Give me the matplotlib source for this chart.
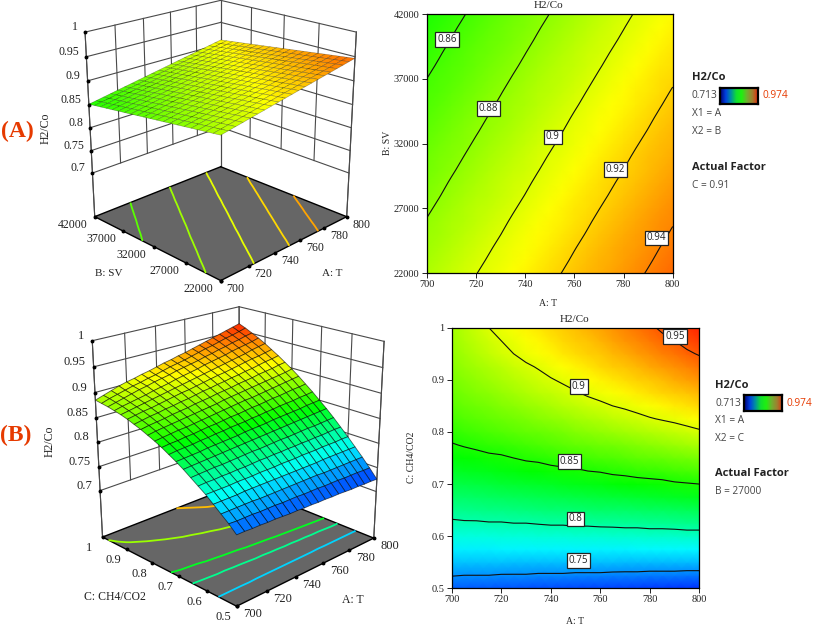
import numpy as np
import matplotlib
matplotlib.use("Agg")
import matplotlib.pyplot as plt
from matplotlib.colors import LinearSegmentedColormap, Normalize
from mpl_toolkits.mplot3d import proj3d

# ---------- data ----------
scale_min, scale_max = 0.713, 0.974
T_values = np.arange(700, 805, 5)
SV_values = np.arange(22000, 43000, 1000)
C_values = np.arange(0, 21) * 0.025 + 0.5
T_ticks = [700, 720, 740, 760, 780, 800]
SV_ticks = [22000, 27000, 32000, 37000, 42000]
C_ticks = [0.5, 0.6, 0.7, 0.8, 0.9, 1]
Z_ticks = [0.7, 0.75, 0.8, 0.85, 0.9, 0.95, 1]
Z_tick_labels = ["0.7", "0.75", "0.8", "0.85", "0.9", "0.95", "1"]
C_tick_labels = ["0.5", "0.6", "0.7", "0.8", "0.9", "1"]
levels_A = [0.86, 0.88, 0.90, 0.92, 0.94]
levels_B = [0.75, 0.80, 0.85, 0.90, 0.95]
floor_levels_A = [0.866, 0.884, 0.902, 0.918, 0.932]
floor_levels_B = [0.768, 0.807, 0.835, 0.883, 0.926]
label_text_A = ["0.86", "0.88", "0.9", "0.92", "0.94"]
label_T_A = [708.3, 725, 751.2, 776.6, 793.5]
label_SV_A = [40020, 34725, 32515, 29995, 24725]
label_text_B = ["0.75", "0.8", "0.85", "0.9", "0.95"]
label_T_B = [751.3, 750, 747.5, 751.3, 790.2]
label_C_B = [0.5537, 0.633, 0.744, 0.887, 0.983]

# H2/Co x 10000; rows = SV 22000..42000, columns = T 700..800
h2co_A = np.array([
[8879,8908,8938,8967,8997,9026,9055,9085,9114,9144,9173,9202,9232,9261,9291,9320,9349,9379,9408,9438,9467],
[8860,8889,8919,8948,8978,9007,9036,9066,9095,9125,9154,9183,9213,9242,9272,9301,9330,9360,9389,9419,9448],
[8842,8871,8901,8930,8960,8989,9018,9048,9077,9107,9136,9165,9195,9224,9254,9283,9312,9342,9371,9401,9430],
[8823,8852,8882,8911,8941,8970,8999,9029,9058,9088,9117,9146,9176,9205,9235,9264,9293,9323,9352,9382,9411],
[8805,8834,8864,8893,8923,8952,8981,9011,9040,9070,9099,9128,9158,9187,9217,9246,9275,9305,9334,9364,9393],
[8786,8815,8845,8874,8904,8933,8962,8992,9021,9051,9080,9109,9139,9168,9198,9227,9256,9286,9315,9345,9374],
[8767,8796,8826,8855,8885,8914,8943,8973,9002,9032,9061,9090,9120,9149,9179,9208,9237,9267,9296,9326,9355],
[8749,8778,8808,8837,8867,8896,8925,8955,8984,9014,9043,9072,9102,9131,9161,9190,9219,9249,9278,9308,9337],
[8730,8759,8789,8818,8848,8877,8906,8936,8965,8995,9024,9053,9083,9112,9142,9171,9200,9230,9259,9289,9318],
[8712,8741,8771,8800,8830,8859,8888,8918,8947,8977,9006,9035,9065,9094,9124,9153,9182,9212,9241,9271,9300],
[8693,8722,8752,8781,8811,8840,8869,8899,8928,8958,8987,9016,9046,9075,9105,9134,9163,9193,9222,9252,9281],
[8674,8703,8733,8762,8792,8821,8850,8880,8909,8939,8968,8997,9027,9056,9086,9115,9144,9174,9203,9233,9262],
[8656,8685,8715,8744,8774,8803,8832,8862,8891,8921,8950,8979,9009,9038,9068,9097,9126,9156,9185,9215,9244],
[8637,8666,8696,8725,8755,8784,8813,8843,8872,8902,8931,8960,8990,9019,9049,9078,9107,9137,9166,9196,9225],
[8619,8648,8678,8707,8737,8766,8795,8825,8854,8884,8913,8942,8972,9001,9031,9060,9089,9119,9148,9178,9207],
[8600,8629,8659,8688,8718,8747,8776,8806,8835,8865,8894,8923,8953,8982,9012,9041,9070,9100,9129,9159,9188],
[8581,8610,8640,8669,8699,8728,8757,8787,8816,8846,8875,8904,8934,8963,8993,9022,9051,9081,9110,9140,9169],
[8563,8592,8622,8651,8681,8710,8739,8769,8798,8828,8857,8886,8916,8945,8975,9004,9033,9063,9092,9122,9151],
[8544,8573,8603,8632,8662,8691,8720,8750,8779,8809,8838,8867,8897,8926,8956,8985,9014,9044,9073,9103,9132],
[8526,8555,8585,8614,8644,8673,8702,8732,8761,8791,8820,8849,8879,8908,8938,8967,8996,9026,9055,9085,9114],
[8507,8536,8566,8595,8625,8654,8683,8713,8742,8772,8801,8830,8860,8889,8919,8948,8977,9007,9036,9066,9095],
]) / 1e4

# H2/Co x 1000; rows = C 0.5..1, columns = T 700..800
h2co_B = np.array([
[737,737,736,736,735,735,734,733,733,732,732,731,731,730,730,729,728,728,727,727,726],
[751,750,750,750,749,749,749,748,748,748,747,747,747,746,746,746,745,745,745,744,744],
[763,763,763,763,763,762,762,762,762,762,762,762,762,762,761,761,761,761,761,761,761],
[775,775,775,775,776,776,776,776,776,776,776,776,776,776,776,777,777,777,777,777,777],
[787,787,787,787,788,788,788,789,789,789,790,790,790,791,791,791,792,792,792,793,793],
[797,798,798,799,799,800,800,801,802,802,803,803,804,804,805,805,806,806,807,808,808],
[807,808,809,810,810,811,812,813,814,814,815,816,817,817,818,819,820,820,821,822,823],
[817,818,819,820,821,822,823,824,825,826,827,828,829,830,831,832,833,834,835,836,837],
[826,827,828,829,831,832,833,834,835,837,838,839,840,842,843,844,845,846,848,849,850],
[834,836,837,838,840,841,843,844,846,847,848,850,851,853,854,856,857,858,860,861,863],
[842,844,845,847,848,850,852,853,855,857,858,860,862,863,865,867,868,870,872,873,875],
[849,851,853,855,856,858,860,862,864,866,868,870,872,873,875,877,879,881,883,885,887],
[855,858,860,862,864,866,868,870,872,874,877,879,881,883,885,887,889,891,893,895,898],
[861,864,866,868,871,873,875,878,880,882,885,887,889,892,894,896,899,901,903,906,908],
[866,869,872,874,877,879,882,884,887,890,892,895,897,900,902,905,907,910,913,915,918],
[871,874,877,879,882,885,888,891,893,896,899,902,905,907,910,913,916,919,921,924,927],
[875,878,881,884,887,890,893,896,899,902,905,908,911,914,917,920,923,926,930,933,936],
[878,882,885,888,891,895,898,901,905,908,911,914,918,921,924,927,931,934,937,940,944],
[881,885,889,893,897,900,904,907,910,914,917,920,923,927,930,934,937,941,944,948,951],
[883,888,892,896,900,903,907,910,914,918,921,924,928,932,936,939,943,947,950,954,958],
[885,890,895,900,904,907,911,914,918,922,925,929,932,936,940,944,948,952,956,960,964],
]) / 1e3

# ---------- style ----------
SERIF = "Liberation Serif"
SANS = "Open Sans"
FW, FH = 813, 625
INK = "#222222"
RED = "#e63a00"
cmap = LinearSegmentedColormap.from_list(
    "de", ["#0000ff", "#00ffff", "#00ff00", "#ffff00", "#ff0000"])
legend_cmap = LinearSegmentedColormap.from_list(
    "deleg", ["#000070", "#0040e0", "#0090a0", "#10e030", "#20f010",
              "#70b030", "#a08030", "#e03010"])
norm = Normalize(scale_min, scale_max)

fig = plt.figure(figsize=(FW / 100, FH / 100), dpi=100)


def ftext(x, y, s, **kw):
    kw.setdefault("ha", "center")
    kw.setdefault("va", "center")
    kw.setdefault("color", INK)
    kw.setdefault("family", SERIF)
    fig.text(x / FW, 1 - y / FH, s, **kw)


def panel3d(xvals, yvals, zvals, xticks, yticks, ylabels, levels, cx, cy_row,
            half, zr, azim, ysize, mesh, xoff, yoff, zoff):
    zlo, zhi = 0.6, 1.0
    norm_len = np.sqrt(2 + zr ** 2)
    side = 1.8294640721620434 * 25 / 24 / norm_len
    a = side / np.sqrt(2)
    f = 0.733 * a
    W = half * 0.185 / (0.09645 * a)
    left = cx - 0.5135 * W
    bottom_row = cy_row + 0.5135 * W
    ax = fig.add_axes([left / FW, 1 - bottom_row / FH, W / FW, W / FH],
                      projection="3d", proj_type="persp", focal_length=f,
                      computed_zorder=False)
    ax.set_box_aspect((1, 1, zr), zoom=1)
    ax.view_init(elev=21, azim=azim)
    x0, x1 = xvals[0], xvals[-1]
    y0, y1 = yvals[0], yvals[-1]
    ax.set_xlim(x0, x1, view_margin=0)
    ax.set_ylim(y0, y1, view_margin=0)
    ax.set_zlim(zlo, zhi, view_margin=0)
    ax.set_axis_off()
    ax.patch.set_alpha(0)

    grid = dict(color="#4a4a4a", lw=0.8, zorder=1)
    # wall grid
    for z in Z_ticks:
        ax.plot([x0, x1], [y1, y1], [z, z], **grid)
        ax.plot([x1, x1], [y0, y1], [z, z], **grid)
    for x in xticks:
        lo = zlo if x in (x0, x1) else Z_ticks[0]
        ax.plot([x, x], [y1, y1], [lo, zhi], **grid)
    for y in yticks:
        lo = zlo if y in (y0, y1) else Z_ticks[0]
        ax.plot([x1, x1], [y, y], [lo, zhi], **grid)
    # left / right front verticals
    ax.plot([x0, x0], [y1, y1], [zlo, zhi], **grid)
    ax.plot([x1, x1], [y0, y0], [zlo, zhi], **grid)

    # floor
    fx, fy = np.meshgrid([x0, x1], [y0, y1])
    ax.plot_surface(fx, fy, np.full_like(fx, zlo, dtype=float), color="#666666",
                    shade=False, linewidth=0, zorder=2)
    for xs, ys in (([x0, x1], [y0, y0]), ([x1, x1], [y0, y1]),
                   ([x1, x0], [y1, y1]), ([x0, x0], [y1, y0])):
        ax.plot(xs, ys, [zlo, zlo], color="black", lw=1.0, zorder=3)
    X, Y = np.meshgrid(xvals, yvals)
    cs = ax.contour(X, Y, zvals, levels=levels, zdir="z", offset=zlo,
                    cmap=cmap, norm=norm, linewidths=1.3)
    cs.set_zorder(4)

    # surface
    mid = (zvals[:-1, :-1] + zvals[1:, :-1] + zvals[:-1, 1:] + zvals[1:, 1:]) / 4
    surf = ax.plot_surface(X, Y, zvals, rstride=1, cstride=1,
                           facecolors=cmap(norm(mid)), shade=False,
                           antialiased=True, zorder=5)
    surf.set_edgecolor(mesh[0])
    surf.set_linewidth(mesh[1])

    # tick dots
    dots = dict(color="black", marker="o", ms=1.8, ls="none", zorder=6)
    ax.plot(list(xticks), [y0] * len(xticks), [zlo] * len(xticks), **dots)
    ax.plot([x0] * len(yticks), list(yticks), [zlo] * len(yticks), **dots)
    ax.plot([x0] * len(Z_ticks), [y1] * len(Z_ticks), Z_ticks, **dots)

    # tick labels
    M = ax.get_proj()

    def lab(x, y, z, s, off, ha="center"):
        px, py, _ = proj3d.proj_transform(x, y, z, M)
        ax.annotate(s, xy=(px, py), xytext=off, textcoords="offset pixels",
                    ha=ha, va="center", family=SERIF, fontsize=ysize,
                    color=INK, annotation_clip=False, zorder=7)

    for x in xticks:
        lab(x, y0, zlo, str(x), xoff)
    for y, s in zip(yticks, ylabels):
        lab(x0, y, zlo, s, yoff)
    for z, s in zip(Z_ticks, Z_tick_labels):
        lab(x0, y1, z, s, zoff, ha="right")
    return ax


panel3d(T_values, SV_values, h2co_A, T_ticks, SV_ticks,
        [str(v) for v in SV_ticks], floor_levels_A, 220.7, 127.8, 126.0, 1.0686,
        -135, 8.6, ((0, 0, 0, 0.35), 0.4), (15, -8), (-22, -8), (-7, 5))
panel3d(T_values, C_values, h2co_B, T_ticks, C_ticks, C_tick_labels,
        floor_levels_B, 238.0, 442.9, 135.6, 1.0574, -134.5, 9.0,
        ((0, 0, 0, 0.6), 0.6), (16, -8), (-13, -11), (-8, 5))

ftext(332.3, 274, "A: T", fontsize=8)
ftext(108.3, 274, "B: SV", fontsize=8)
ftext(45.7, 128, "H2/Co", fontsize=8.5, rotation=90)
ftext(353.3, 600, "A: T", fontsize=8.5)
ftext(115, 597.3, "C: CH4/CO2", fontsize=8.5)
ftext(50, 441.7, "H2/Co", fontsize=8.5, rotation=90)
ftext(17.5, 131.7, "(A)", fontsize=17, fontweight="bold", color=RED)
ftext(16, 435.7, "(B)", fontsize=17, fontweight="bold", color=RED)


def panel2d(box, xv, yv, z, levels, yticks, yticklabels, lab_x, lab_y, lab_s):
    l, r, t, b = box
    ax = fig.add_axes([l / FW, 1 - b / FH, (r - l) / FW, (b - t) / FH])
    ax.pcolormesh(xv, yv, z, shading="gouraud", cmap=cmap, norm=norm)
    ax.contour(xv, yv, z, levels=levels, colors="#111111", linewidths=0.8)
    for x, y, s in zip(lab_x, lab_y, lab_s):
        ax.text(x, y, s, ha="center", va="center", family=SANS, fontsize=7,
                color=INK, zorder=5,
                bbox=dict(boxstyle="square,pad=0.2", fc="white", ec="#222222",
                          lw=0.9))
    ax.set_xlim(xv[0], xv[-1])
    ax.set_ylim(yv[0], yv[-1])
    ax.set_xticks(T_ticks)
    ax.set_yticks(yticks)
    ax.set_yticklabels(yticklabels)
    ax.tick_params(length=3.6, width=0.7, pad=1.5, labelsize=7.5, colors=INK)
    for t_ in ax.get_xticklabels() + ax.get_yticklabels():
        t_.set_family(SERIF)
    for s in ax.spines.values():
        s.set_linewidth(0.9)
    return ax


panel2d((426.7, 672.7, 14, 273.3), T_values, SV_values, h2co_A, levels_A,
        SV_ticks, [str(v) for v in SV_ticks], label_T_A, label_SV_A, label_text_A)
panel2d((451.7, 699.3, 327.7, 588.3), T_values, C_values, h2co_B, levels_B,
        C_ticks, C_tick_labels, label_T_B, label_C_B, label_text_B)

ftext(549, 5, "H2/Co", fontsize=8)
ftext(548, 304, "A: T", fontsize=7)
ftext(387, 143, "B: SV", fontsize=7, rotation=90)
ftext(575, 319, "H2/Co", fontsize=8)
ftext(575, 621, "A: T", fontsize=7)
ftext(411, 457, "C: CH4/CO2", fontsize=7, rotation=90)


def legend(lx, bx, y0, second, factor):
    g = dict(ha="left", family=SANS)
    ftext(lx, y0, "H2/Co", fontsize=8, fontweight="bold", color="#222222", **g)
    ftext(lx, y0 + 18, f"{scale_min:.3f}", fontsize=7.3, color="#444444", **g)
    ftext(bx + 42.5, y0 + 18, f"{scale_max:.3f}", fontsize=7.3, color=RED, **g)
    ftext(lx, y0 + 35.5, "X1 = A", fontsize=7.3, color="#444444", **g)
    ftext(lx, y0 + 53.5, second, fontsize=7.3, color="#444444", **g)
    ftext(lx, y0 + 89, "Actual Factor", fontsize=8, fontweight="bold",
          color="#222222", **g)
    ftext(lx, y0 + 107, factor, fontsize=7.3, color="#444444", **g)
    ax = fig.add_axes([bx / FW, 1 - (y0 + 26) / FH, 38 / FW, 16 / FH])
    ax.imshow(np.linspace(scale_min, scale_max, 64)[None, :], cmap=legend_cmap,
              norm=norm, aspect="auto")
    ax.set_xticks([])
    ax.set_yticks([])
    for s in ax.spines.values():
        s.set_linewidth(1.6)


legend(691.7, 720, 78, "X2 = B", "C = 0.91")
legend(715, 743.5, 385, "X2 = C", "B = 27000")

fig.savefig("out.png", dpi=100)
